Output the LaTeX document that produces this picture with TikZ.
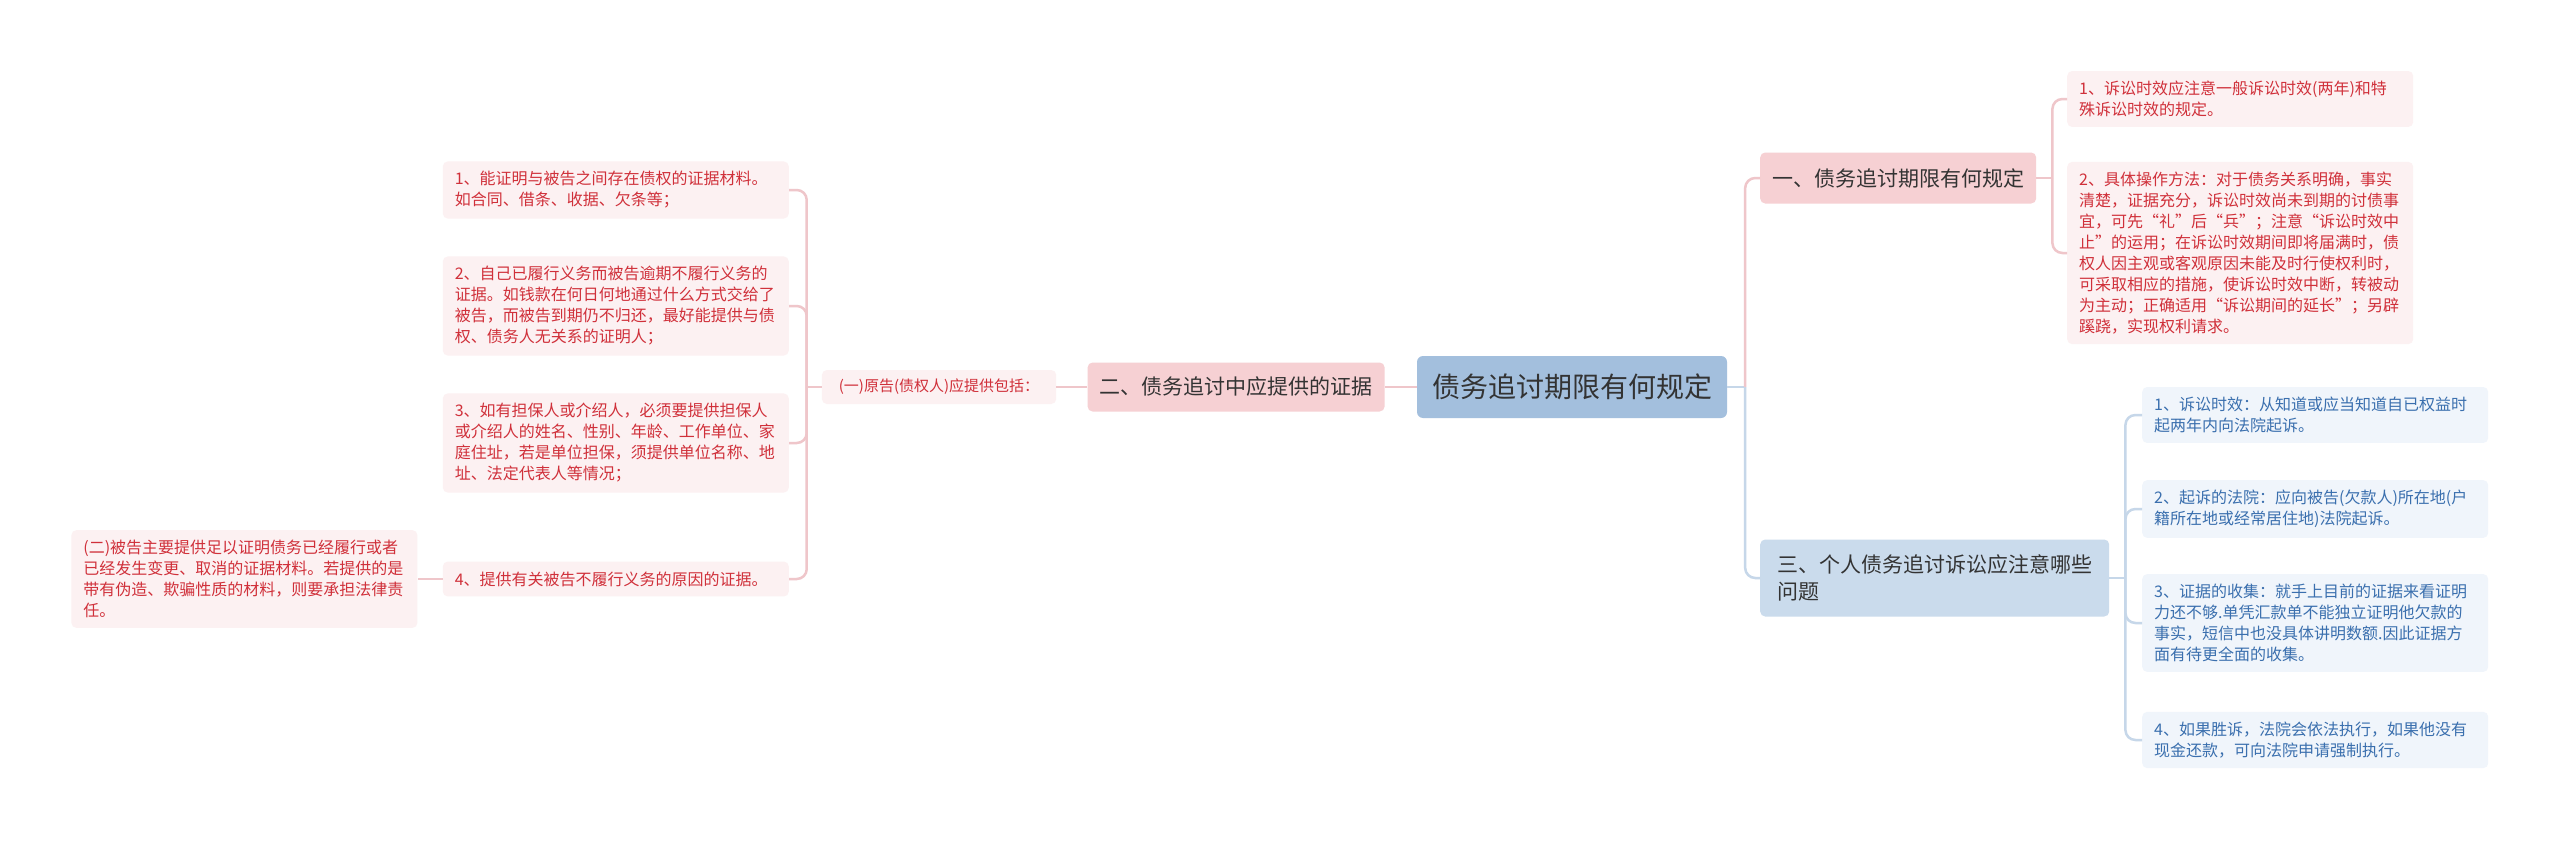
\documentclass[tikz,border=0pt]{standalone}
\usepackage{fontspec}
\setmainfont{Noto Sans CJK SC}
\usetikzlibrary{positioning}
\definecolor{rootblue}{HTML}{A3BFDD}
\definecolor{branchpink}{HTML}{F6D0D3}
\definecolor{branchblue}{HTML}{CADBEC}
\definecolor{leafpink}{HTML}{FCF1F2}
\definecolor{leafblue}{HTML}{F0F5FB}
\definecolor{leafred}{HTML}{D0303A}
\definecolor{leafink}{HTML}{3A6FAE}
\definecolor{inkdark}{HTML}{333333}
\definecolor{linkpink}{HTML}{EFC6CA}
\definecolor{linkblue}{HTML}{C6D7E9}

\begin{document}
\begin{tikzpicture}[
  x=1pt, y=1pt,
  node distance=32pt,
  rootbox/.style={fill=rootblue, rounded corners=6pt, text=inkdark, font=\fontsize{28}{34}\selectfont, minimum width=310pt, minimum height=62pt},
  pinkbranch/.style={fill=branchpink, rounded corners=5pt, text=inkdark, font=\fontsize{21}{27}\selectfont, inner xsep=12pt, minimum height=49pt},
  bluebranch/.style={fill=branchblue, rounded corners=5pt, text=inkdark, font=\fontsize{21}{27}\selectfont, align=left, inner xsep=17pt, minimum height=77pt},
  midleaf/.style={fill=leafpink, rounded corners=5pt, text=leafred, font=\fontsize{15}{20}\selectfont, inner xsep=17pt, minimum height=34pt},
  pinkleaf/.style={fill=leafpink, rounded corners=5pt, text=leafred, font=\fontsize{16}{21}\selectfont, align=left, text width=322pt, inner xsep=12pt, inner ysep=10pt},
  blueleaf/.style={pinkleaf, fill=leafblue, text=leafink},
  pinklink/.style={draw=linkpink, line width=2.5pt, rounded corners=10pt},
  bluelink/.style={draw=linkblue, line width=2.5pt, rounded corners=10pt}
]
\fill[white] (0,0) rectangle (2560,-843);
\useasboundingbox (0,0) rectangle (2560,-843);

\node[rootbox] (root) at (1572,-387) {债务追讨期限有何规定};

% left side
\node[pinkbranch, left=32pt of root] (evid) {二、债务追讨中应提供的证据};
\node[midleaf, left=31pt of evid] (plain) {(一)原告(债权人)应提供包括：};
\node[pinkleaf, anchor=east] (plainA) at (789,-190) {1、能证明与被告之间存在债权的证据材料。\\如合同、借条、收据、欠条等；};
\node[pinkleaf, anchor=east] (plainB) at (789,-306) {2、自己已履行义务而被告逾期不履行义务的\\证据。如钱款在何日何地通过什么方式交给了\\被告，而被告到期仍不归还，最好能提供与债\\权、债务人无关系的证明人；};
\node[pinkleaf, anchor=east] (plainC) at (789,-443) {3、如有担保人或介绍人，必须要提供担保人\\或介绍人的姓名、性别、年龄、工作单位、家\\庭住址，若是单位担保，须提供单位名称、地\\址、法定代表人等情况；};
\node[pinkleaf, anchor=east] (plainD) at (789,-579) {4、提供有关被告不履行义务的原因的证据。};
\node[pinkleaf, left=25pt of plainD] (defend) {(二)被告主要提供足以证明债务已经履行或者\\已经发生变更、取消的证据材料。若提供的是\\带有伪造、欺骗性质的材料，则要承担法律责\\任。};

% right side
\node[pinkbranch, anchor=west, minimum height=51pt] (limit) at (1760,-178) {一、债务追讨期限有何规定};
\node[pinkleaf, anchor=west] (limitA) at (2067,-99) {1、诉讼时效应注意一般诉讼时效(两年)和特\\殊诉讼时效的规定。};
\node[pinkleaf, anchor=west] (limitB) at (2067,-253) {2、具体操作方法：对于债务关系明确，事实\\清楚，证据充分，诉讼时效尚未到期的讨债事\\宜，可先“礼”后“兵”；注意“诉讼时效中\\止”的运用；在诉讼时效期间即将届满时，债\\权人因主观或客观原因未能及时行使权利时，\\可采取相应的措施，使诉讼时效中断，转被动\\为主动；正确适用“诉讼期间的延长”；另辟\\蹊跷，实现权利请求。};
\node[bluebranch, anchor=west] (suit) at (1760,-578) {三、个人债务追讨诉讼应注意哪些\\问题};
\node[blueleaf, anchor=west] (suitA) at (2142,-415) {1、诉讼时效：从知道或应当知道自已权益时\\起两年内向法院起诉。};
\node[blueleaf, anchor=west] (suitB) at (2142,-509) {2、起诉的法院：应向被告(欠款人)所在地(户\\籍所在地或经常居住地)法院起诉。};
\node[blueleaf, anchor=west] (suitC) at (2142,-623) {3、证据的收集：就手上目前的证据来看证明\\力还不够.单凭汇款单不能独立证明他欠款的\\事实，短信中也没具体讲明数额.因此证据方\\面有待更全面的收集。};
\node[blueleaf, anchor=west] (suitD) at (2142,-740) {4、如果胜诉，法院会依法执行，如果他没有\\现金还款，可向法院申请强制执行。};

% trunks
\coordinate[right=18pt of root.east] (rootR);
\coordinate[left=15pt of plain.west] (plainL);
\coordinate[right=16pt of limit.east] (limitR);
\coordinate[right=16pt of suit.east] (suitR);

\draw[pinklink] (root.west) -- (evid.east);
\draw[pinklink] (evid.west) -- (plain.east);
\draw[pinklink] (plain.west) -- (plainL);
\foreach \leaf in {plainA,plainB,plainC,plainD}
  \draw[pinklink] (plainL) |- (\leaf.east);
\draw[pinklink] (plainD.west) -- (defend.east);

\draw[bluelink] (root.east) -- (rootR);
\draw[pinklink] (rootR) |- (limit.west);
\draw[bluelink] (rootR) |- (suit.west);

\draw[pinklink] (limit.east) -- (limitR);
\foreach \leaf in {limitA,limitB}
  \draw[pinklink] (limitR) |- (\leaf.west);

\draw[bluelink] (suit.east) -- (suitR);
\foreach \leaf in {suitA,suitB,suitC,suitD}
  \draw[bluelink] (suitR) |- (\leaf.west);
\end{tikzpicture}
\end{document}
